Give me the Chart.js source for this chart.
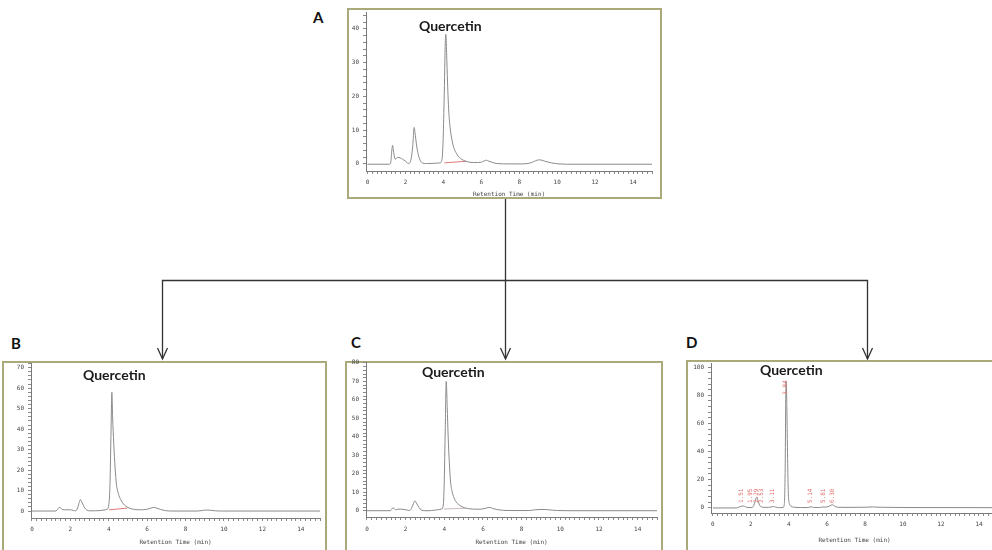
<!DOCTYPE html>
<html><head><meta charset="utf-8">
<script src="https://cdn.jsdelivr.net/npm/chart.js@4.4.1/dist/chart.umd.min.js"></script>
<style>
html,body{margin:0;padding:0;background:#fff;width:992px;height:550px;overflow:hidden;position:relative;font-family:Lato,"Open Sans",sans-serif}
.frame{position:absolute;border:2px solid #a9a97c;box-sizing:border-box;background:#fff}
canvas{position:absolute}
.letter{position:absolute;font-family:Lato,sans-serif;font-weight:700;font-size:15px;line-height:15px;color:#111}
.qlab{position:absolute;font-family:Lato,sans-serif;font-weight:700;font-size:14px;line-height:14px;color:#1a1a1a;white-space:nowrap}
</style></head><body>

<div class="frame" style="left:347px;top:8px;width:315px;height:191px"></div>
<div class="frame" style="left:2px;top:361px;width:325px;height:200px"></div>
<div class="frame" style="left:345px;top:361px;width:318px;height:200px"></div>
<div class="frame" style="left:686px;top:360px;width:330px;height:200px"></div>

<svg width="992" height="550" style="position:absolute;left:0;top:0">
  <g stroke="#333" stroke-width="1.3" fill="none">
    <path d="M505.5 199 V359"/>
    <path d="M162.5 359 V280.5 H867.5 V359"/>
    <path d="M157.5 348 L162.5 359 L167.5 348"/>
    <path d="M500.5 348 L505.5 359 L510.5 348"/>
    <path d="M862.5 348 L867.5 359 L872.5 348"/>
  </g>
</svg>

<canvas id="cA"></canvas>
<canvas id="cB"></canvas>
<canvas id="cC"></canvas>
<canvas id="cD"></canvas>

<div class="letter" style="left:313px;top:10px">A</div>
<div class="letter" style="left:11px;top:336px">B</div>
<div class="letter" style="left:351px;top:335px">C</div>
<div class="letter" style="left:686px;top:335px">D</div>

<div class="qlab" style="left:419px;top:19px">Quercetin</div>
<div class="qlab" style="left:83px;top:368px">Quercetin</div>
<div class="qlab" style="left:422px;top:365px">Quercetin</div>
<div class="qlab" style="left:760px;top:363px">Quercetin</div>

<script>
// ---------- data (retention time in min, detector signal) ----------
const xTickValues = [0, 2, 4, 6, 8, 10, 12, 14];
const xTickLabels = ['0', '2', '4', '6', '8', '10', '12', '14'];
const yTicksA = [0, 10, 20, 30, 40];
const yTicksB = [0, 10, 20, 30, 40, 50, 60, 70];
const yTicksC = [0, 10, 20, 30, 40, 50, 60, 70, 80];
const yTicksD = [0, 20, 40, 60, 80, 100];

const timeA = [0,1.15,1.22,1.29,1.32,1.36,1.46,1.6,1.72,1.85,1.98,2.1,2.17,2.3,2.38,2.46,2.52,2.57,2.63,2.72,2.86,3.1,3.6,3.82,3.92,3.98,4.04,4.1,4.13,4.17,4.22,4.28,4.35,4.45,4.55,4.7,4.85,5.05,5.3,5.6,6.0,6.15,6.27,6.4,6.6,6.85,7.5,8.1,8.4,8.65,8.85,9.02,9.2,9.4,9.7,10.1,11,15];
const signalA = [-0.1,-0.1,0.3,4.5,5.5,4.2,1.4,1.9,1.8,1.4,0.9,0.3,0.1,1.5,5,10.8,8.5,6.2,4,1.9,0.4,0.1,0.2,0.3,1.1,6,19,36,38.4,33,24,16,11,7.2,4.8,3,1.9,1.1,0.6,0.4,0.5,0.9,1.1,0.8,0.4,0.1,0,0,0.1,0.4,0.9,1.2,1.1,0.7,0.3,0,-0.1,-0.1];
const baseTimeA = [4.05, 5.2];
const baseSignalA = [0.3, 0.8];

const timeB = [0,1.2,1.3,1.42,1.48,1.6,1.75,2.0,2.15,2.27,2.38,2.46,2.53,2.59,2.65,2.73,2.85,3.0,3.5,3.75,3.92,4.0,4.06,4.12,4.16,4.2,4.26,4.33,4.4,4.5,4.62,4.75,4.9,5.1,5.35,5.65,5.95,6.15,6.33,6.5,6.7,6.95,7.3,8.6,8.9,9.1,9.3,9.55,10,15];
const signalB = [0,0,0.4,1.7,1.6,0.7,0.6,0.6,0.3,0.1,1.5,4.2,5.6,4.5,3.4,1.8,0.5,0.1,0.2,0.5,0.9,3,12,40,58,46,33,21,13,8.5,5.6,3.6,2.3,1.3,0.8,0.6,0.8,1.3,1.8,1.4,0.8,0.2,0,0,0.3,0.5,0.4,0.1,0,0];
const baseTimeB = [4.02, 4.95];
const baseSignalB = [0.6, 1.4];

const timeC = [0,1.2,1.27,1.34,1.4,1.47,1.6,1.72,1.9,2.05,2.2,2.3,2.4,2.48,2.55,2.62,2.7,2.8,3.0,3.2,3.5,3.7,3.86,3.94,3.99,4.05,4.1,4.15,4.2,4.26,4.32,4.4,4.5,4.62,4.75,4.95,5.15,5.45,5.8,6.05,6.25,6.35,6.5,6.75,7.05,7.5,8.4,8.7,9.0,9.3,9.6,9.85,10.5,15];
const signalC = [0,0,0.5,1.6,1.3,0.5,0.8,0.9,0.7,0.4,0.1,1.2,3.8,5.4,4.3,2.9,1.6,0.4,0,0,0.3,0.6,0.9,2.5,13,45,70,56,40,26,16,10.5,7,4.7,3.3,2,1.3,0.9,0.8,1.1,1.7,1.8,1.2,0.6,0.2,0.1,0.1,0.5,0.7,0.6,0.3,0.1,0,0];
const baseTimeC = [3.98, 5.1];
const baseSignalC = [0.9, 1.4];

const timeD = [0,1.25,1.38,1.5,1.62,1.72,1.85,2.05,2.15,2.22,2.3,2.37,2.45,2.55,2.8,3.05,3.18,3.3,3.5,3.7,3.76,3.8,3.84,3.86,3.89,3.93,3.97,4.02,4.1,4.25,4.6,5.0,5.17,5.3,5.6,5.8,5.95,6.15,6.28,6.4,6.55,7.0,8.0,8.4,8.8,10,15];
const signalD = [-0.2,-0.2,0.5,1,1.2,0.6,0.1,0.1,1.5,4.3,7.4,5.2,2,0.5,0.2,0.4,0.8,0.4,0,0.2,3,25,85,90,72,35,10,3,1.2,0.4,0.1,0.1,0.6,0.2,0.1,0.5,0.4,1.2,2.1,1.1,0.3,0.2,0.3,0.5,0.3,0.1,0];
const peakTimesD = [1.51, 1.95, 2.29, 2.53, 3.11, 3.84, 5.14, 5.81, 6.30];
const peakLabelsD = ['1.51', '1.95', '2.29', '2.53', '3.11', '3.84', '5.14', '5.81', '6.30'];

// ---------- helpers ----------
function zip(xs, ys) { return xs.map((x, i) => ({ x: x, y: ys[i] })); }
function stepTicks(from, to, step) {
  const a = [];
  for (let k = 0; from + k * step <= to + 1e-9; k++) a.push(+(from + k * step).toFixed(4));
  return a;
}

const peakLabelPlugin = {
  id: 'peakLabels',
  afterDatasetsDraw(chart, args, opts) {
    if (!opts || !opts.times) return;
    const ctx = chart.ctx, xs = chart.scales.x, ys = chart.scales.y;
    const pts = chart.data.datasets[0].data;
    ctx.save();
    ctx.font = '6px "DejaVu Sans Mono"';
    ctx.fillStyle = '#e0706e';
    ctx.textBaseline = 'middle';
    opts.times.forEach((t, i) => {
      let h = 0;
      pts.forEach(p => { if (Math.abs(p.x - t) <= 0.12 && p.y > h) h = p.y; });
      const px = xs.getPixelForValue(t);
      ctx.save();
      if (h > 50) {
        ctx.translate(px, ys.getPixelForValue(h) - 1);
        ctx.rotate(-Math.PI / 2);
        ctx.textAlign = 'right';
      } else {
        ctx.translate(px, ys.getPixelForValue(3.3));
        ctx.rotate(-Math.PI / 2);
        ctx.textAlign = 'left';
      }
      ctx.fillText(opts.labels[i], 0, 0);
      ctx.restore();
    });
    ctx.restore();
  }
};

const AXW = 26, AXH = 32, PADT = 8, PADR = 10;
const mono = 'DejaVu Sans Mono';

function buildPanel(id, p) {
  const cv = document.getElementById(id);
  const left = p.plotLeft - AXW, top = p.plotTop - PADT;
  const w = p.plotRight + PADR - left, h = p.plotBottom + AXH - top;
  cv.width = w; cv.height = h;
  cv.style.left = left + 'px'; cv.style.top = top + 'px';
  cv.style.width = w + 'px'; cv.style.height = h + 'px';

  const datasets = [{
    data: zip(p.time, p.signal), borderColor: '#8a8a8a', borderWidth: 1,
    pointRadius: 0, cubicInterpolationMode: 'monotone', fill: false
  }];
  if (p.baseTime) datasets.push({
    data: zip(p.baseTime, p.baseSignal), borderColor: p.baseColor, borderWidth: 1,
    pointRadius: 0, fill: false
  });

  new Chart(cv, {
    type: 'line',
    data: { datasets: datasets },
    plugins: [peakLabelPlugin],
    options: {
      responsive: false, animation: false, devicePixelRatio: 1,
      layout: { padding: { left: 0, top: PADT, right: PADR, bottom: 0 } },
      plugins: {
        legend: { display: false }, tooltip: { enabled: false },
        peakLabels: p.peakTimes ? { times: p.peakTimes, labels: p.peakLabels } : {}
      },
      scales: {
        x: {
          type: 'linear', min: p.xMin, max: 15,
          afterBuildTicks: s => { s.ticks = stepTicks(0, 15, 0.25).map(v => ({ value: v })); },
          afterFit: s => { s.height = AXH; },
          grid: { drawOnChartArea: false, drawTicks: true, tickLength: 3, color: '#8a8a8a', lineWidth: 1 },
          border: { display: true, color: '#7a7a7a', width: 1 },
          ticks: {
            autoSkip: false, maxRotation: 0, minRotation: 0, padding: p.xTickPad,
            font: { family: mono, size: 6 }, color: '#444',
            callback: v => { const i = xTickValues.indexOf(Math.round(v * 100) / 100); return i >= 0 ? xTickLabels[i] : ''; }
          },
          title: { display: true, text: 'Retention Time (min)', font: { family: mono, size: 6 }, color: '#444', padding: { top: 0, bottom: p.titlePad } }
        },
        y: {
          type: 'linear', min: p.yMin, max: p.yMax,
          afterBuildTicks: s => { s.ticks = stepTicks(0, p.yMax, p.yMinor).map(v => ({ value: v })); },
          afterFit: s => { s.width = AXW; },
          grid: { drawOnChartArea: false, drawTicks: true, tickLength: 3, color: '#8a8a8a', lineWidth: 1 },
          border: { display: true, color: '#7a7a7a', width: 1 },
          ticks: {
            autoSkip: false, padding: 4, font: { family: mono, size: 6 }, color: '#444',
            callback: v => (p.yMajor.indexOf(Math.round(v * 100) / 100) >= 0 ? String(Math.round(v)) : '')
          }
        }
      }
    }
  });
}

buildPanel('cA', { time: timeA, signal: signalA, baseTime: baseTimeA, baseSignal: baseSignalA, baseColor: '#e07a78',
  plotLeft: 366, plotRight: 652, plotTop: 12, plotBottom: 171, xMin: -0.08, yMin: -2.1, yMax: 45,
  yMajor: yTicksA, yMinor: 2, xTickPad: 5, titlePad: 5 });
buildPanel('cB', { time: timeB, signal: signalB, baseTime: baseTimeB, baseSignal: baseSignalB, baseColor: '#e07a78',
  plotLeft: 31, plotRight: 320, plotTop: 363, plotBottom: 518, xMin: -0.05, yMin: -3.4, yMax: 72.3,
  yMajor: yTicksB, yMinor: 2, xTickPad: 5, titlePad: 4 });
buildPanel('cC', { time: timeC, signal: signalC, baseTime: baseTimeC, baseSignal: baseSignalC, baseColor: '#c9b8b8',
  plotLeft: 366, plotRight: 657, plotTop: 362, plotBottom: 517, xMin: -0.05, yMin: -3.4, yMax: 80.5,
  yMajor: yTicksC, yMinor: 2, xTickPad: 6, titlePad: 3 });
buildPanel('cD', { time: timeD, signal: signalD, peakTimes: peakTimesD, peakLabels: peakLabelsD,
  plotLeft: 711, plotRight: 998, plotTop: 363, plotBottom: 513, xMin: -0.1, yMin: -3.8, yMax: 103,
  yMajor: yTicksD, yMinor: 4, xTickPad: 5, titlePad: 1 });
</script>
</body></html>
